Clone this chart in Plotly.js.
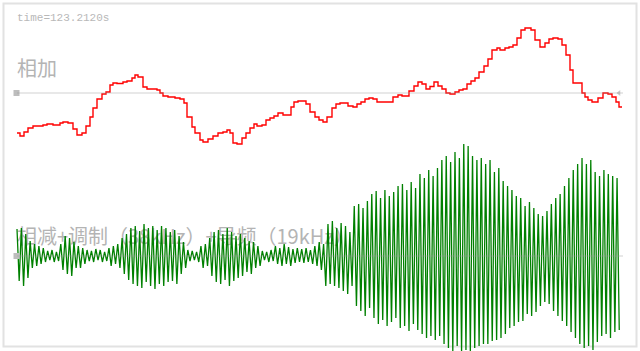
<!DOCTYPE html>
<html>
<head>
<meta charset="utf-8">
<script src="https://cdn.plot.ly/plotly-3.0.1.min.js"></script>
<style>html,body{margin:0;padding:0;background:#fff;}#chart{width:640px;height:351px;}</style>
</head>
<body>
<div id="chart"></div>
<script>
// ---- data ----
const timeLabel = "time=123.2120s";
const sumLabel = "相加";
const diffLabel = "相减+调制（38kHz）+导频（19kHz）";

// L+R (相加): step start time (samples) and amplitude
const redT = [17,20,24,28,33,43,47,53,60,63,68,73,77,82,86,90,93,97,102,106,110,113,117,123,127,132,135,138,143,147,152,157,160,163,168,175,180,184,187,192,195,200,203,208,213,218,223,227,230,233,237,242,246,250,254,257,262,266,270,274,278,283,291,294,298,306,310,315,319,323,327,332,336,340,348,353,357,361,365,369,373,377,393,398,402,409,414,418,422,426,430,434,438,442,446,450,455,459,463,467,471,475,479,484,488,492,497,500,505,509,513,517,521,525,531,535,540,545,549,553,558,562,566,570,573,582,585,588,592,598,603,608,612,616,619,622];
const redV = [-40,-43,-39,-35,-33,-32,-31,-32,-30,-29,-30,-36,-42,-40,-33,-24,-15,-6,-1,1,8,10,9.5,11,12,15,18,16,6,4,4,3,0,-3,-4,-5,-6,-10,-24,-34,-40,-47,-49,-46,-43,-40,-39,-37,-40,-50,-51,-45,-40,-35,-31,-33,-32,-27,-25,-23,-20,-22,-14,-9,-8,-11,-19,-24,-27,-29,-24,-15,-11,-10,-13,-14,-11,-9,-6,-5,-6,-9,-4,-2,-3,2,7,11,9,4,6.5,11,7,4,0,-1,1,3,4,9,12,15,21,27,34,43,45,43,45,46,48,55,63,65,63,53,46,50,54,55,54,48,38,23,10,0,-4,-7,-9,-5,0,-1,-4,-9,-14,-14];

// L-R modulated + pilot (相减+调制+导频): per-cycle peak and trough amplitudes
const greenStart = 17;
const greenHalfPeriod = 2.19;
const greenTops = [27,28,22, 15,12,10,8, 5,6,4, 12,20,18,14, 10,8, 6,5,7,6,4, 8,10,12, 18,22,
  28,30,25,32,28,30,26,30,28,24, 26,20,14, 6,5,4, 10,12, 18,24,26,22,28,24,20,22, 18,15,14,10,
  5,4,6, 10,8,12,9, 7,8,7,8,6,10, 14,12, 32,35, 28,33,30,24, 50,52,48,55, 62,65,58,66,60,64,
  70,72,66,74,68, 82,78,86,80,88, 96,100,94,104,98,112, 110,100,96,98, 92,96,84,88, 75,70,66,60,
  58,50,54,48, 42,40,45, 52,58,62, 70,78,86,92, 98,92,96, 84,80,86,82,80,78];
const greenBottoms = [-25,-30,-22, -12,-10,-8,-6, -4,-6,-5, -14,-18,-20,-12, -12,-8, -5,-6,-4,-6,-5, -10,-8,-12, -18,-24,
  -28,-30,-32,-26,-30,-33,-28,-30,-26,-25, -28,-18,-12, -5,-4,-6, -12,-10, -20,-26,-28,-24,-30,-25,-22,-20, -16,-18,-12,-10,
  -4,-6,-5, -8,-10,-8,-10, -7,-6,-7,-6,-8,-10, -14,-30, -28,-30, -32,-35,-38,-30, -50,-55,-60,-52, -62,-68,-64,-70,-66,-62,
  -72,-70,-75,-68,-74, -78,-82,-80,-84,-80, -88,-92,-95,-90,-96,-94, -95,-92,-90,-88, -88,-85,-84,-82, -78,-72,-70,-66,
  -65,-58,-60,-56, -50,-46,-48, -55,-60,-65, -70,-76,-82,-88, -92,-90,-94, -86,-80,-78,-82,-76,-74];

const baseStart = 17, baseEnd = 623;

// ---- build ----
const gx = [], gy = [];
for (let i = 0; i < greenTops.length; i++) {
  gx.push(greenStart + greenHalfPeriod * (2 * i)); gy.push(greenTops[i]);
  gx.push(greenStart + greenHalfPeriod * (2 * i + 1)); gy.push(greenBottoms[i]);
}

const labelColor = "#b4b4b4";
const traces = [
  {x:[baseStart], y:[75], yaxis:"y", mode:"text", text:[timeLabel], textposition:"middle right",
   textfont:{family:"Liberation Mono, DejaVu Sans Mono, monospace", size:11, color:"#b8b8b8"}, hoverinfo:"skip", showlegend:false},
  {x:[baseStart], y:[22], yaxis:"y", mode:"text", text:[sumLabel], textposition:"middle right",
   textfont:{family:"Noto Sans CJK SC", size:20, color:labelColor}, hoverinfo:"skip", showlegend:false},
  {x:[baseStart], y:[17], yaxis:"y2", mode:"text", text:[diffLabel], textposition:"middle right",
   textfont:{family:"Noto Sans CJK SC", size:20, color:labelColor}, hoverinfo:"skip", showlegend:false},
  {x:redT, y:redV, yaxis:"y", mode:"lines", line:{color:"#ff0000", width:1.4, shape:"hv"}, showlegend:false},
  {x:gx, y:gy, yaxis:"y2", mode:"lines", line:{color:"#008000", width:1.3}, showlegend:false},
  {x:[baseStart-0.5], y:[0], yaxis:"y", mode:"markers",
   marker:{symbol:"square", size:6, color:"#bdbdbd"}, showlegend:false, hoverinfo:"skip"},
  {x:[baseStart-0.5], y:[0], yaxis:"y2", mode:"markers",
   marker:{symbol:"square", size:6, color:"#bdbdbd"}, showlegend:false, hoverinfo:"skip"},
  {x:[baseEnd-4], y:[0], yaxis:"y", mode:"markers",
   marker:{symbol:"triangle-left", size:5, color:"#c8c8c8"}, showlegend:false, hoverinfo:"skip"}
];

const W = 640, H = 351;
const layout = {
  width:W, height:H, margin:{l:0,r:0,t:0,b:0},
  paper_bgcolor:"#fff", plot_bgcolor:"#fff", showlegend:false,
  xaxis:{range:[0,W], visible:false, fixedrange:true},
  yaxis:{range:[93-H, 93], visible:false, fixedrange:true},
  yaxis2:{range:[256-H, 256], visible:false, overlaying:"y", fixedrange:true},
  shapes:[
    {type:"rect", xref:"paper", yref:"paper", x0:3.5/W, x1:636.5/W, y0:1-346.5/H, y1:1-3.5/H,
     line:{color:"#e2e2e2", width:2}, layer:"below"},
    {type:"line", xref:"x", yref:"y", x0:baseStart, x1:baseEnd, y0:0, y1:0,
     line:{color:"rgba(150,150,150,0.45)", width:1}},
    {type:"line", xref:"x", yref:"y2", x0:baseStart, x1:baseEnd, y0:0, y1:0,
     line:{color:"rgba(150,150,150,0.45)", width:1}}
  ]
};
Plotly.newPlot("chart", traces, layout, {staticPlot:true, displayModeBar:false});
</script>
</body>
</html>
